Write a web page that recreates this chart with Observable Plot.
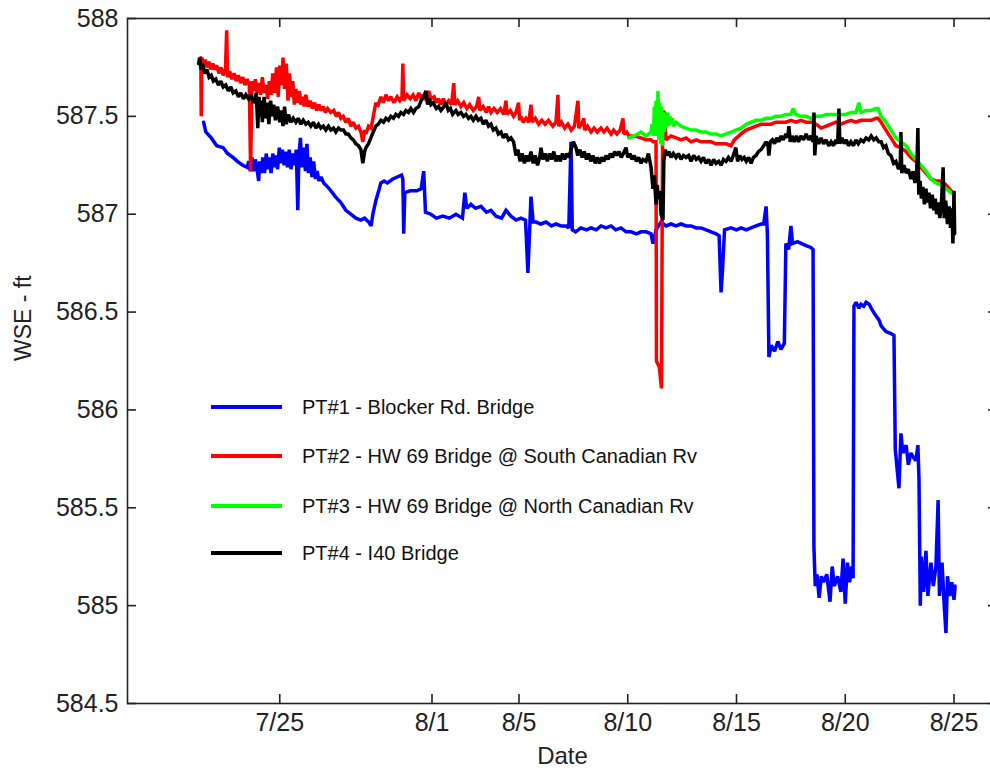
<!DOCTYPE html>
<html>
<head>
<meta charset="utf-8">
<script src="https://cdn.jsdelivr.net/npm/d3@7"></script>
<script src="https://cdn.jsdelivr.net/npm/@observablehq/plot@0.6"></script>
<style>
  html, body { margin: 0; padding: 0; background: #fff; overflow: hidden; }
  #chart { position: relative; width: 990px; height: 771px; overflow: hidden;
           font-family: "Liberation Sans", Arial, sans-serif; }
  #chart svg { max-width: none !important; display: block; }
  #legend { position: absolute; left: 0; top: 0; }
  .key { position: absolute; left: 211px; width: 300px; height: 24px; }
  .key .swatch { position: absolute; left: 0; top: 10px; width: 71px; height: 3.5px; }
  .key .name { position: absolute; left: 91px; top: 0; font-size: 20px; line-height: 24px;
               color: #111; white-space: nowrap; }
</style>
</head>
<body>
<div id="chart"></div>
<script>
// Time stamps are day numbers counted from July 1 (so 32 = Aug 1, 56 = Aug 25).
// Values are water surface elevation in feet.

const seriesNames = [
  "PT#1 - Blocker Rd. Bridge",
  "PT#2 - HW 69 Bridge @ South Canadian Rv",
  "PT#3 - HW 69 Bridge @ North Canadian Rv",
  "PT#4 - I40 Bridge"
];
const seriesColors = ["#0000ff", "#ff0000", "#00ff00", "#000000"];

const pt1 = [
  [21.50,587.47],[21.60,587.42],[21.85,587.39],[22.10,587.35],[22.40,587.34],[22.60,587.31],
  [22.85,587.29],[23.05,587.27],[23.30,587.25],[23.50,587.24],[23.58,587.27],[23.65,587.22],
  [23.72,587.29],[23.80,587.22],[23.88,587.28],[23.95,587.24],[24.03,587.17],[24.08,587.27],
  [24.15,587.21],[24.22,587.29],[24.30,587.21],[24.38,587.31],[24.45,587.23],[24.52,587.29],
  [24.60,587.21],[24.68,587.31],[24.75,587.24],[24.82,587.30],[24.90,587.23],[24.98,587.34],
  [25.05,587.26],[25.12,587.33],[25.20,587.25],[25.28,587.32],[25.36,587.24],[25.44,587.33],
  [25.52,587.23],[25.60,587.31],[25.68,587.25],[25.76,587.33],[25.83,587.02],[25.88,587.30],
  [25.95,587.39],[26.02,587.24],[26.10,587.34],[26.18,587.22],[26.25,587.36],[26.32,587.21],
  [26.40,587.29],[26.48,587.19],[26.56,587.27],[26.64,587.18],[26.72,587.22],[26.80,587.17],
  [26.90,587.19],[27.02,587.16],[27.20,587.14],[27.35,587.12],[27.55,587.09],[27.81,587.06],
  [28.04,587.02],[28.27,587.00],[28.50,586.98],[28.73,586.97],[28.90,586.98],[29.09,586.96],
  [29.20,586.94],[29.28,587.00],[29.42,587.07],[29.55,587.12],[29.65,587.16],[29.80,587.17],
  [29.95,587.16],[30.20,587.18],[30.40,587.19],[30.60,587.20],[30.66,587.18],[30.70,586.90],
  [30.75,587.11],[31.00,587.12],[31.30,587.12],[31.50,587.13],[31.62,587.22],[31.70,587.01],
  [31.95,587.00],[32.20,586.98],[32.50,586.99],[32.80,586.98],[33.10,587.00],[33.40,586.98],
  [33.51,587.11],[33.60,587.03],[33.79,587.05],[34.00,587.03],[34.25,587.04],[34.50,587.01],
  [34.71,587.02],[34.94,586.99],[35.20,586.98],[35.40,587.02],[35.63,586.99],[35.86,586.97],
  [36.09,586.98],[36.30,586.97],[36.41,586.70],[36.50,586.95],[36.55,587.09],[36.65,586.96],
  [36.78,586.96],[37.00,586.95],[37.24,586.96],[37.50,586.94],[37.70,586.95],[37.93,586.94],
  [38.16,586.94],[38.29,586.93],[38.39,587.37],[38.45,586.92],[38.60,586.91],[38.85,586.93],
  [39.10,586.92],[39.31,586.93],[39.55,586.92],[39.77,586.94],[40.00,586.93],[40.23,586.94],
  [40.45,586.92],[40.69,586.93],[40.92,586.91],[41.15,586.91],[41.40,586.90],[41.61,586.91],
  [41.84,586.91],[42.07,586.90],[42.16,586.85],[42.30,586.92],[42.53,586.96],[42.76,586.94],
  [42.99,586.95],[43.22,586.94],[43.45,586.95],[43.68,586.94],[43.91,586.94],[44.15,586.93],
  [44.37,586.93],[44.60,586.92],[44.83,586.91],[45.06,586.90],[45.20,586.89],[45.29,586.60],
  [45.35,586.70],[45.45,586.92],[45.75,586.93],[46.00,586.92],[46.21,586.93],[46.45,586.92],
  [46.67,586.93],[46.90,586.94],[47.13,586.95],[47.25,586.95],[47.36,587.04],[47.42,586.90],
  [47.49,586.27],[47.60,586.33],[47.75,586.30],[47.90,586.35],[48.04,586.31],[48.20,586.34],
  [48.27,586.85],[48.40,586.82],[48.50,586.94],[48.58,586.85],[48.80,586.86],[49.00,586.85],
  [49.20,586.84],[49.42,586.83],[49.52,586.82],[49.56,585.30],[49.62,585.10],[49.70,585.16],
  [49.80,585.04],[49.90,585.15],[50.00,585.12],[50.15,585.16],[50.30,585.02],[50.40,585.20],
  [50.50,585.10],[50.65,585.15],[50.80,585.07],[50.90,585.24],[51.00,585.01],[51.10,585.22],
  [51.20,585.12],[51.30,585.20],[51.36,585.14],[51.40,586.53],[51.50,586.55],[51.63,586.52],
  [51.72,586.54],[51.85,586.53],[51.96,586.55],[52.10,586.54],[52.19,586.52],[52.30,586.50],
  [52.42,586.48],[52.55,586.46],[52.65,586.43],[52.87,586.40],[53.10,586.39],[53.24,586.38],
  [53.30,585.80],[53.40,585.68],[53.47,585.60],[53.56,585.88],[53.65,585.78],[53.80,585.82],
  [53.90,585.72],[54.02,585.78],[54.12,585.76],[54.25,585.74],[54.34,585.82],[54.39,585.65],
  [54.45,585.00],[54.50,585.25],[54.60,585.07],[54.71,585.28],[54.80,585.05],[54.94,585.22],
  [55.05,585.10],[55.17,585.20],[55.27,585.54],[55.33,585.05],[55.45,585.22],[55.55,585.00],
  [55.63,584.86],[55.70,585.15],[55.80,585.05],[55.90,585.12],[56.00,585.03],[56.05,585.10]
];

const pt2 = [
  [21.37,587.80],[21.39,587.50],[21.42,587.80],[21.50,587.76],[21.58,587.79],[21.66,587.75],
  [21.75,587.78],[21.83,587.74],[21.92,587.77],[22.00,587.74],[22.10,587.76],[22.20,587.72],
  [22.30,587.75],[22.40,587.71],[22.50,587.73],[22.56,587.94],[22.60,587.70],[22.70,587.73],
  [22.80,587.69],[22.90,587.72],[23.00,587.68],[23.10,587.71],[23.20,587.67],[23.30,587.70],
  [23.40,587.66],[23.50,587.69],[23.60,587.66],[23.66,587.22],[23.72,587.68],[23.80,587.63],
  [23.88,587.69],[23.96,587.62],[24.05,587.67],[24.12,587.61],[24.20,587.70],[24.28,587.62],
  [24.36,587.66],[24.45,587.59],[24.52,587.68],[24.60,587.61],[24.68,587.72],[24.76,587.62],
  [24.85,587.75],[24.93,587.60],[25.00,587.76],[25.08,587.66],[25.15,587.80],[25.22,587.64],
  [25.30,587.77],[25.38,587.58],[25.45,587.72],[25.52,587.60],[25.60,587.68],[25.67,587.56],
  [25.74,587.64],[25.82,587.57],[25.90,587.63],[25.97,587.56],[26.05,587.60],[26.12,587.55],
  [26.20,587.61],[26.30,587.55],[26.40,587.58],[26.50,587.54],[26.60,587.57],[26.70,587.53],
  [26.80,587.56],[26.89,587.53],[27.00,587.55],[27.10,587.52],[27.20,587.54],[27.35,587.52],
  [27.48,587.53],[27.60,587.50],[27.70,587.52],[27.81,587.49],[27.92,587.50],[28.04,587.47],
  [28.15,587.49],[28.27,587.45],[28.38,587.47],[28.50,587.44],[28.62,587.45],[28.73,587.42],
  [28.82,587.37],[28.90,587.43],[28.96,587.41],[29.08,587.45],[29.20,587.44],[29.30,587.50],
  [29.42,587.57],[29.50,587.55],[29.65,587.60],[29.76,587.57],[29.88,587.61],[30.00,587.58],
  [30.11,587.60],[30.25,587.57],[30.40,587.60],[30.52,587.58],[30.62,587.60],[30.66,587.77],
  [30.70,587.58],[30.85,587.61],[31.00,587.59],[31.13,587.61],[31.26,587.58],[31.39,587.62],
  [31.50,587.59],[31.60,587.61],[31.75,587.58],[31.85,587.63],[31.95,587.59],[32.10,587.60],
  [32.20,587.57],[32.30,587.59],[32.41,587.56],[32.52,587.59],[32.64,587.56],[32.77,587.58],
  [32.90,587.56],[33.00,587.67],[33.05,587.56],[33.18,587.58],[33.33,587.55],[33.46,587.57],
  [33.60,587.54],[33.73,587.56],[33.90,587.53],[34.05,587.55],[34.15,587.60],[34.20,587.53],
  [34.35,587.55],[34.50,587.52],[34.60,587.55],[34.71,587.52],[34.85,587.54],[35.00,587.52],
  [35.15,587.54],[35.30,587.51],[35.40,587.58],[35.45,587.51],[35.60,587.53],[35.75,587.50],
  [35.86,587.52],[35.98,587.57],[36.03,587.48],[36.09,587.50],[36.20,587.47],[36.32,587.49],
  [36.45,587.47],[36.55,587.56],[36.60,587.47],[36.75,587.49],[36.90,587.46],[37.05,587.48],
  [37.20,587.46],[37.35,587.48],[37.55,587.45],[37.70,587.47],[37.79,587.61],[37.83,587.45],
  [37.95,587.47],[38.10,587.44],[38.25,587.46],[38.40,587.43],[38.55,587.45],[38.71,587.58],
  [38.75,587.44],[38.88,587.46],[38.98,587.49],[39.02,587.43],[39.15,587.45],[39.31,587.42],
  [39.45,587.44],[39.60,587.42],[39.77,587.44],[39.90,587.42],[40.05,587.44],[40.23,587.41],
  [40.35,587.43],[40.50,587.41],[40.65,587.43],[40.78,587.49],[40.82,587.41],[40.95,587.42],
  [41.05,587.40],[41.30,587.40],[41.61,587.39],[41.84,587.38],[42.07,587.38],[42.16,587.37],
  [42.30,587.37],[42.32,586.25],[42.45,586.22],[42.55,586.11],[42.60,587.35],[42.66,587.53],
  [42.76,587.38],[42.99,587.40],[43.22,587.39],[43.45,587.38],[43.68,587.39],[43.91,587.37],
  [44.15,587.38],[44.37,587.37],[44.60,587.37],[44.83,587.37],[45.06,587.36],[45.29,587.36],
  [45.52,587.36],[45.75,587.35],[45.90,587.38],[46.21,587.41],[46.45,587.43],[46.67,587.44],
  [46.90,587.45],[47.13,587.46],[47.36,587.46],[47.59,587.46],[47.81,587.47],[48.04,587.47],
  [48.27,587.47],[48.50,587.48],[48.73,587.47],[48.96,587.48],[49.20,587.47],[49.42,587.47],
  [49.66,587.46],[49.89,587.44],[50.12,587.45],[50.35,587.46],[50.57,587.47],[50.80,587.46],
  [51.03,587.47],[51.26,587.48],[51.49,587.47],[51.72,587.48],[51.96,587.48],[52.19,587.48],
  [52.42,587.49],[52.51,587.49],[52.65,587.47],[52.87,587.43],[53.10,587.39],[53.33,587.35],
  [53.56,587.34],[53.80,587.32],[54.02,587.29],[54.25,587.27],[54.48,587.24],[54.71,587.21],
  [54.94,587.18],[55.17,587.17],[55.40,587.17],[55.63,587.15],[55.86,587.12],[56.00,587.10]
];

const pt3 = [
  [41.05,587.39],[41.30,587.40],[41.61,587.42],[41.84,587.40],[42.07,587.42],[42.12,587.46],
  [42.18,587.40],[42.22,587.55],[42.26,587.42],[42.30,587.58],[42.34,587.40],[42.39,587.63],
  [42.43,587.38],[42.47,587.57],[42.51,587.36],[42.55,587.55],[42.59,587.35],[42.63,587.52],
  [42.68,587.42],[42.72,587.50],[42.76,587.44],[42.82,587.52],[42.88,587.45],[42.94,587.50],
  [42.99,587.46],[43.05,587.49],[43.10,587.45],[43.22,587.47],[43.45,587.45],[43.68,587.44],
  [43.91,587.43],[44.15,587.43],[44.37,587.42],[44.60,587.42],[44.83,587.41],[45.06,587.41],
  [45.29,587.40],[45.52,587.41],[45.75,587.42],[45.97,587.43],[46.21,587.44],[46.45,587.46],
  [46.67,587.47],[46.90,587.48],[47.13,587.48],[47.36,587.49],[47.59,587.49],[47.81,587.50],
  [48.04,587.50],[48.27,587.51],[48.50,587.51],[48.60,587.54],[48.73,587.51],[48.96,587.50],
  [49.20,587.50],[49.42,587.49],[49.66,587.50],[49.89,587.50],[50.12,587.51],[50.35,587.51],
  [50.57,587.51],[50.80,587.51],[51.03,587.51],[51.26,587.52],[51.49,587.52],[51.63,587.57],
  [51.72,587.52],[51.96,587.53],[52.19,587.53],[52.42,587.54],[52.51,587.54],[52.65,587.50],
  [52.87,587.47],[53.10,587.43],[53.33,587.39],[53.56,587.37],[53.80,587.35],[54.02,587.31],
  [54.25,587.28],[54.48,587.25],[54.71,587.22],[54.94,587.18],[55.17,587.16],[55.40,587.15],
  [55.63,587.13],[56.00,587.10]
];

const pt4 = [
  [21.27,587.77],[21.32,587.80],[21.38,587.74],[21.45,587.77],[21.55,587.72],[21.65,587.74],
  [21.75,587.70],[21.85,587.71],[21.95,587.68],[22.06,587.69],[22.18,587.66],[22.29,587.68],
  [22.40,587.65],[22.52,587.66],[22.63,587.63],[22.75,587.65],[22.86,587.62],[22.98,587.63],
  [23.10,587.60],[23.21,587.62],[23.33,587.59],[23.44,587.61],[23.56,587.59],[23.67,587.61],
  [23.78,587.57],[23.85,587.58],[23.92,587.62],[23.99,587.44],[24.05,587.60],[24.10,587.50],
  [24.15,587.58],[24.20,587.47],[24.28,587.60],[24.35,587.49],[24.42,587.57],[24.50,587.46],
  [24.58,587.58],[24.65,587.50],[24.72,587.56],[24.80,587.48],[24.90,587.55],[25.00,587.47],
  [25.08,587.53],[25.15,587.45],[25.22,587.55],[25.30,587.46],[25.40,587.51],[25.51,587.47],
  [25.62,587.49],[25.74,587.47],[25.85,587.49],[25.97,587.46],[26.08,587.48],[26.20,587.46],
  [26.31,587.47],[26.43,587.45],[26.55,587.47],[26.66,587.44],[26.78,587.46],[26.89,587.44],
  [27.00,587.45],[27.12,587.43],[27.24,587.45],[27.35,587.43],[27.47,587.44],[27.58,587.42],
  [27.70,587.44],[27.81,587.43],[27.93,587.43],[28.04,587.41],[28.15,587.41],[28.27,587.39],
  [28.38,587.38],[28.50,587.36],[28.62,587.35],[28.73,587.33],[28.82,587.26],[28.90,587.32],
  [28.96,587.34],[29.08,587.36],[29.19,587.39],[29.30,587.42],[29.42,587.45],[29.53,587.46],
  [29.65,587.48],[29.77,587.47],[29.88,587.49],[30.00,587.48],[30.11,587.50],[30.23,587.49],
  [30.34,587.51],[30.46,587.50],[30.57,587.52],[30.69,587.51],[30.80,587.53],[30.92,587.52],
  [31.03,587.54],[31.15,587.52],[31.26,587.54],[31.39,587.55],[31.50,587.58],[31.62,587.60],
  [31.72,587.63],[31.80,587.56],[31.88,587.59],[31.95,587.56],[32.05,587.57],[32.20,587.54],
  [32.30,587.55],[32.41,587.53],[32.55,587.55],[32.64,587.57],[32.75,587.53],[32.85,587.54],
  [32.95,587.51],[33.10,587.53],[33.20,587.51],[33.33,587.52],[33.45,587.50],[33.56,587.51],
  [33.68,587.49],[33.79,587.50],[33.90,587.48],[34.02,587.50],[34.13,587.48],[34.25,587.49],
  [34.36,587.46],[34.48,587.48],[34.60,587.45],[34.71,587.46],[34.82,587.43],[34.94,587.44],
  [35.05,587.41],[35.17,587.42],[35.28,587.39],[35.40,587.41],[35.52,587.38],[35.63,587.39],
  [35.75,587.37],[35.86,587.30],[35.95,587.33],[36.05,587.27],[36.15,587.31],[36.25,587.26],
  [36.35,587.30],[36.45,587.27],[36.55,587.32],[36.65,587.26],[36.75,587.30],[36.85,587.25],
  [36.95,587.29],[37.01,587.34],[37.10,587.28],[37.20,587.31],[37.30,587.27],[37.40,587.31],
  [37.50,587.28],[37.60,587.32],[37.70,587.27],[37.80,587.30],[37.90,587.27],[38.00,587.31],
  [38.10,587.28],[38.20,587.31],[38.30,587.29],[38.39,587.33],[38.50,587.37],[38.62,587.34],
  [38.70,587.30],[38.80,587.33],[38.90,587.29],[39.00,587.32],[39.10,587.28],[39.20,587.31],
  [39.30,587.27],[39.40,587.30],[39.50,587.26],[39.60,587.29],[39.70,587.26],[39.80,587.29],
  [39.90,587.27],[40.00,587.30],[40.10,587.28],[40.20,587.31],[40.30,587.29],[40.40,587.32],
  [40.50,587.30],[40.60,587.32],[40.70,587.29],[40.80,587.31],[40.92,587.34],[41.00,587.29],
  [41.10,587.31],[41.20,587.28],[41.30,587.30],[41.40,587.27],[41.50,587.29],[41.61,587.26],
  [41.70,587.28],[41.84,587.27],[41.95,587.31],[42.07,587.24],[42.16,587.13],[42.22,587.20],
  [42.30,587.05],[42.36,587.15],[42.40,587.08],[42.47,587.12],[42.53,587.00],[42.62,586.97],
  [42.66,587.27],[42.72,587.33],[42.80,587.30],[42.90,587.32],[42.99,587.29],[43.10,587.31],
  [43.22,587.29],[43.33,587.31],[43.45,587.28],[43.56,587.30],[43.68,587.29],[43.80,587.30],
  [43.91,587.27],[44.03,587.30],[44.15,587.28],[44.26,587.29],[44.37,587.27],[44.48,587.29],
  [44.60,587.26],[44.72,587.28],[44.83,587.25],[44.95,587.28],[45.06,587.26],[45.18,587.27],
  [45.29,587.25],[45.40,587.28],[45.52,587.27],[45.63,587.29],[45.75,587.27],[45.85,587.30],
  [45.97,587.34],[46.05,587.27],[46.15,587.30],[46.25,587.28],[46.35,587.29],[46.45,587.27],
  [46.56,587.29],[46.67,587.26],[46.78,587.29],[46.90,587.30],[47.01,587.32],[47.13,587.33],
  [47.25,587.35],[47.36,587.37],[47.45,587.35],[47.49,587.30],[47.55,587.37],[47.65,587.38],
  [47.75,587.36],[47.85,587.39],[47.95,587.37],[48.04,587.40],[48.15,587.38],[48.27,587.41],
  [48.35,587.39],[48.41,587.45],[48.47,587.37],[48.55,587.40],[48.65,587.37],[48.75,587.40],
  [48.85,587.37],[48.96,587.40],[49.08,587.38],[49.20,587.41],[49.32,587.38],[49.42,587.40],
  [49.52,587.37],[49.56,587.52],[49.60,587.30],[49.66,587.40],[49.78,587.36],[49.89,587.39],
  [50.00,587.36],[50.12,587.38],[50.24,587.35],[50.35,587.37],[50.46,587.35],[50.57,587.38],
  [50.65,587.36],[50.71,587.54],[50.75,587.36],[50.85,587.39],[50.95,587.36],[51.05,587.38],
  [51.15,587.35],[51.26,587.37],[51.38,587.35],[51.49,587.38],[51.60,587.36],[51.72,587.38],
  [51.84,587.37],[51.96,587.39],[52.08,587.38],[52.19,587.40],[52.31,587.38],[52.42,587.39],
  [52.54,587.37],[52.65,587.37],[52.76,587.34],[52.87,587.35],[52.98,587.31],[53.10,587.30],
  [53.22,587.26],[53.33,587.27],[53.45,587.23],[53.53,587.26],[53.56,587.42],[53.60,587.21],
  [53.70,587.25],[53.80,587.21],[53.90,587.23],[54.02,587.18],[54.12,587.22],[54.20,587.16],
  [54.28,587.20],[54.34,587.44],[54.38,587.10],[54.44,587.17],[54.50,587.08],[54.57,587.14],
  [54.64,587.05],[54.71,587.13],[54.78,587.06],[54.85,587.11],[54.92,587.03],[55.00,587.10],
  [55.07,587.02],[55.14,587.08],[55.20,587.00],[55.27,587.06],[55.35,586.98],[55.42,587.05],
  [55.50,587.24],[55.55,586.98],[55.62,587.07],[55.70,586.95],[55.78,587.04],[55.84,586.93],
  [55.90,587.03],[55.95,586.85],[56.00,587.12],[56.03,586.90]
];

// Axis ticks
const xTickDays = [25, 32, 36, 41, 46, 51, 56];
const yTicks = [584.5, 585, 585.5, 586, 586.5, 587, 587.5, 588];
const xDomainDays = [18, 58];
const yDomain = [584.5, 588];

// Day number (from July 1) -> UTC Date
const day0 = Date.UTC(2008, 6, 1);
const toDate = d => new Date(day0 + (d - 1) * 864e5);

const allSeries = [pt1, pt2, pt3, pt4];
const rows = allSeries.map((s, i) => s.map(([d, v]) => ({series: seriesNames[i], t: toDate(d), v})));
const xTicks = xTickDays.map(toDate);

const W = 997, H = 771, mL = 127, mT = 18, mB = 68, mR = 0;
const innerW = W - mL - mR, innerH = H - mT - mB;
const tickLen = 9;
const axisColor = "#222";

const plot = Plot.plot({
  width: W,
  height: H,
  marginLeft: mL,
  marginTop: mT,
  marginBottom: mB,
  marginRight: mR,
  style: {fontFamily: '"Liberation Sans", Arial, sans-serif', fontSize: "25px", color: "#222",
          background: "#fff", maxWidth: "none"},
  x: {type: "utc", domain: xDomainDays.map(toDate)},
  y: {domain: yDomain},
  marks: [
    // data lines, drawn in series order
    ...rows.map((r, i) => Plot.line(r, {x: "t", y: "v", stroke: seriesColors[i], strokeWidth: 3.5,
                                         strokeLinejoin: "miter", strokeMiterlimit: 2})),
    Plot.frame({stroke: axisColor, strokeWidth: 1.6}),
    // inward tick marks on all four sides
    Plot.ruleX(xTicks, {x: d => d, insetBottom: innerH - tickLen, stroke: axisColor, strokeWidth: 1.6}),
    Plot.ruleX(xTicks, {x: d => d, insetTop: innerH - tickLen, stroke: axisColor, strokeWidth: 1.6}),
    Plot.ruleY(yTicks, {y: d => d, insetRight: innerW - tickLen, stroke: axisColor, strokeWidth: 1.6}),
    Plot.ruleY(yTicks, {y: d => d, insetLeft: innerW - tickLen, stroke: axisColor, strokeWidth: 1.6}),
    Plot.axisX(xTicks, {tickSize: 0, tickPadding: 10, tickFormat: d3.utcFormat("%-m/%-d"), label: null, fill: axisColor}),
    Plot.axisY(yTicks, {tickSize: 0, tickPadding: 9, tickFormat: d => String(d), label: null, fill: axisColor}),
    Plot.text(["Date"], {frameAnchor: "bottom", dy: 60, fill: axisColor, fontSize: 24}),
    Plot.text(["WSE - ft"], {frameAnchor: "left", dx: -104, rotate: -90, fill: axisColor, fontSize: 23})
  ]
});

const chart = document.getElementById("chart");
chart.appendChild(plot);

// Legend inside the plot area
const legend = document.createElement("div");
legend.id = "legend";
const keyTops = [395, 444, 494, 541];
seriesNames.forEach((name, i) => {
  const key = document.createElement("div");
  key.className = "key";
  key.style.top = keyTops[i] + "px";
  const sw = document.createElement("div");
  sw.className = "swatch";
  sw.style.background = seriesColors[i];
  const label = document.createElement("div");
  label.className = "name";
  label.textContent = name;
  key.appendChild(sw);
  key.appendChild(label);
  legend.appendChild(key);
});
chart.appendChild(legend);
</script>
</body>
</html>
